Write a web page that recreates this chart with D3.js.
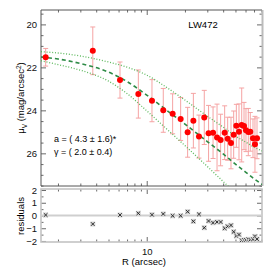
<!DOCTYPE html>
<html>
<head>
<meta charset="utf-8">
<script src="https://cdn.jsdelivr.net/npm/d3@7/dist/d3.min.js"></script>
<style>
  body { margin: 0; background: #fff; }
  svg { display: block; font-family: "Liberation Sans", Arial, sans-serif; }
  .tick text { font-size: 9.5px; fill: #111; }
</style>
</head>
<body>
<div id="chart"></div>
<script>
// profile points
const radius = [1.60, 3.76, 6.16, 8.59, 11.0, 13.5, 16.0, 18.5, 21.0, 23.3, 25.8, 28.4, 30.7, 33.3, 35.8,
  38.2, 41.1, 43.4, 46.1, 48.4, 50.8, 53.3, 56.0, 58.4, 60.5, 63.1, 65.4, 68.7, 71.2, 73.9];
const mu = [21.53, 21.23, 22.59, 23.24, 23.55, 24.0, 24.16, 24.40, 25.02, 24.48, 25.22, 24.33, 25.07, 25.04, 25.26,
  25.38, 25.04, 25.32, 25.52, 25.13, 24.72, 25.0, 24.68, 24.73, 24.92, 25.01, 25.0, 25.3, 25.58, 25.3];
const muErr = [0.41, 1.11, 0.84, 1.12, 0.98, 1.02, 0.93, 1.0, 1.16, 1.27, 1.0, 1.26, 1.3, 1.2, 1.55,
  1.2, 1.25, 1.0, 1.2, 1.1, 1.0, 1.3, 1.72, 1.1, 1.0, 1.1, 0.9, 0.9, 1.3, 0.95];
const resid = [0.04, -0.67, 0.04, 0.17, 0.06, 0.12, -0.02, -0.02, 0.30, -0.46, 0.09, -0.96, -0.43, -0.57, -0.51,
  -0.51, -1.0, -0.85, -0.77, -1.28, -1.6, -1.5, -1.95, -1.93, -1.92, -1.87, -1.9, -1.87, -1.64, -1.85];

// fitted model and its envelope
const curveR = [1.47, 2, 3, 5, 7, 10, 15, 20, 30, 40, 50, 60, 70, 81];
const fitMu = [21.52, 21.61, 21.82, 22.22, 22.66, 23.29, 24.08, 24.64, 25.45, 26.03, 26.50, 26.87, 27.18, 27.45];
const upperMu = [21.27, 21.33, 21.47, 21.75, 21.99, 22.36, 23.01, 23.52, 24.27, 24.78, 25.20, 25.47, 25.71, 25.89];
const lowerMu = [21.69, 21.87, 22.13, 22.64, 23.22, 24.02, 24.97, 25.64, 26.61, 27.31, 27.85, null, null, null];

// ticks
const xMajor = [10];
const xMinor = [2, 3, 4, 5, 6, 7, 8, 9, 20, 30, 40, 50, 60, 70, 80];
const yMajor = [20, 22, 24, 26];
const rMajor = [2, 1, 0, -1, -2];

const W = 270, H = 270;
const L = 41, R = 262, T = 10, B = 186, RT = 189, RB = 242;

const svg = d3.select('#chart').append('svg')
  .attr('width', W)
  .attr('height', H);

const x = d3.scaleLog().domain([1.47, 80.9]).range([L, R]);
const y = d3.scaleLinear().domain([19.33, 27.52]).range([T, B]);
const yr = d3.scaleLinear().domain([-2.08, 2.08]).range([RB, RT]);

const yMinor = d3.range(19.5, 27.6, 0.5).filter(v => !yMajor.includes(v));
const rMinor = d3.range(-2, 2.01, 0.5).filter(v => !rMajor.includes(v));

function styleAxis(g) {
  g.select('.domain').remove();
  g.selectAll('.tick line').attr('stroke', '#444').attr('stroke-width', 0.8);
}

// main panel ticks
function ticksY(scale, major, minor, x0, labels) {
  svg.append('g').attr('transform', `translate(${x0},0)`)
    .call(d3.axisLeft(scale).tickValues(major).tickSize(-5).tickPadding(4)
      .tickFormat(labels ? (d => d < 0 ? '\u2212' + Math.abs(d) : d) : ''))
    .call(styleAxis);
  svg.append('g').attr('transform', `translate(${x0},0)`)
    .call(d3.axisLeft(scale).tickValues(minor).tickSize(-2.5).tickFormat(''))
    .call(styleAxis);
}
function ticksYRight(scale, major, minor) {
  svg.append('g').attr('transform', `translate(${R},0)`)
    .call(d3.axisRight(scale).tickValues(major).tickSize(-5).tickFormat(''))
    .call(styleAxis);
  svg.append('g').attr('transform', `translate(${R},0)`)
    .call(d3.axisRight(scale).tickValues(minor).tickSize(-2.5).tickFormat(''))
    .call(styleAxis);
}
function ticksX(y0, top, labels) {
  const ax = top ? d3.axisTop : d3.axisBottom;
  svg.append('g').attr('transform', `translate(0,${y0})`)
    .call(ax(x).tickValues(xMajor).tickSize(-5).tickPadding(6).tickFormat(labels ? d3.format('d') : ''))
    .call(styleAxis);
  svg.append('g').attr('transform', `translate(0,${y0})`)
    .call(ax(x).tickValues(xMinor).tickSize(-2.5).tickFormat(''))
    .call(styleAxis);
}

ticksY(y, yMajor, yMinor, L, true);
ticksYRight(y, yMajor, yMinor);
ticksX(T, true, false);
ticksX(B, false, false);
ticksY(yr, rMajor, rMinor, L, true);
ticksYRight(yr, rMajor, rMinor);
ticksX(RT, true, false);
ticksX(RB, false, true);

svg.selectAll('.tick text').style('font-size', '9.5px');

// frames
svg.append('path')
  .attr('d', `M${R},${T}H${L}V${B}H${R}`)
  .attr('fill', 'none').attr('stroke', '#555').attr('stroke-width', 1);
svg.append('line')
  .attr('x1', R + 0.5).attr('x2', R + 0.5).attr('y1', T).attr('y2', B)
  .attr('stroke', '#bbb').attr('stroke-width', 2);
svg.append('rect')
  .attr('x', L).attr('y', RT).attr('width', R - L).attr('height', RB - RT)
  .attr('fill', 'none').attr('stroke', '#c4c4c4').attr('stroke-width', 1.6);

// clip
svg.append('clipPath').attr('id', 'clipMain')
  .append('rect').attr('x', L).attr('y', T).attr('width', R - L).attr('height', B - T);

const plot = svg.append('g').attr('clip-path', 'url(#clipMain)');

// error bars
const pts = radius.map((r, i) => ({ r, m: mu[i], e: muErr[i], res: resid[i] }));
const eb = plot.append('g').attr('stroke', '#f5a3a3').attr('stroke-width', 1);
eb.selectAll('.bar').data(pts).enter().append('line')
  .attr('x1', d => x(d.r)).attr('x2', d => x(d.r))
  .attr('y1', d => y(d.m - d.e)).attr('y2', d => y(d.m + d.e));
eb.selectAll('.capTop').data(pts).enter().append('line')
  .attr('x1', d => x(d.r) - 2.5).attr('x2', d => x(d.r) + 2.5)
  .attr('y1', d => y(d.m - d.e)).attr('y2', d => y(d.m - d.e));
eb.selectAll('.capBot').data(pts).enter().append('line')
  .attr('x1', d => x(d.r) - 2.5).attr('x2', d => x(d.r) + 2.5)
  .attr('y1', d => y(d.m + d.e)).attr('y2', d => y(d.m + d.e));

// model curves
const line = d3.line()
  .defined(d => d[1] !== null)
  .x(d => x(d[0])).y(d => y(d[1]))
  .curve(d3.curveMonotoneX);

plot.append('path')
  .attr('d', line(curveR.map((r, i) => [r, upperMu[i]])))
  .attr('fill', 'none').attr('stroke', '#5cb85c').attr('stroke-width', 1.3)
  .attr('stroke-dasharray', '1,1.8');
plot.append('path')
  .attr('d', line(curveR.map((r, i) => [r, lowerMu[i]])))
  .attr('fill', 'none').attr('stroke', '#5cb85c').attr('stroke-width', 1.3)
  .attr('stroke-dasharray', '1,1.8');
plot.append('path')
  .attr('d', line(curveR.map((r, i) => [r, fitMu[i]])))
  .attr('fill', 'none').attr('stroke', '#2e8b46').attr('stroke-width', 1.6)
  .attr('stroke-dasharray', '4,3');

// points
plot.selectAll('.pt').data(pts).enter().append('circle')
  .attr('cx', d => x(d.r)).attr('cy', d => y(d.m)).attr('r', 3)
  .attr('fill', '#ff0000');

// residual panel
svg.append('line')
  .attr('x1', L).attr('x2', R).attr('y1', yr(0)).attr('y2', yr(0))
  .attr('stroke', '#cfcfcf').attr('stroke-width', 2);

const rg = svg.append('g');
const marks = rg.selectAll('.res').data(pts).enter().append('g')
  .attr('transform', d => `translate(${x(d.r)},${yr(d.res)})`);
marks.append('rect')
  .attr('x', -2.5).attr('y', -2.5).attr('width', 5).attr('height', 5)
  .attr('fill', '#d6d6d6');
marks.append('path')
  .attr('d', 'M-1.8,-1.8L1.8,1.8M-1.8,1.8L1.8,-1.8')
  .attr('stroke', '#222').attr('stroke-width', 0.9);

// labels
svg.append('text')
  .attr('x', 203).attr('y', 27.5)
  .attr('text-anchor', 'middle')
  .style('font-size', '9.5px')
  .text('LW472');

const yl = svg.append('text')
  .attr('transform', 'translate(24,98) rotate(-90)')
  .attr('text-anchor', 'middle')
  .style('font-size', '9.5px');
yl.append('tspan').text('\u03bc');
yl.append('tspan').attr('dy', 2.5).style('font-size', '6.5px').text('V');
yl.append('tspan').attr('dy', -2.5).text(' (mag/arcsec');
yl.append('tspan').attr('dy', -3.5).style('font-size', '6.5px').text('2');
yl.append('tspan').attr('dy', 3.5).text(')');

svg.append('text')
  .attr('transform', 'translate(24,216) rotate(-90)')
  .attr('text-anchor', 'middle')
  .style('font-size', '9.5px')
  .text('residuals');

svg.append('text')
  .attr('x', 144).attr('y', 265)
  .attr('text-anchor', 'middle')
  .style('font-size', '9.5px')
  .text('R (arcsec)');

svg.append('text')
  .attr('x', 54).attr('y', 142)
  .style('font-size', '9px')
  .text('a = ( 4.3 \u00b1 1.6)*');
svg.append('text')
  .attr('x', 54).attr('y', 155)
  .style('font-size', '9px')
  .text('\u03b3 = ( 2.0 \u00b1 0.4)');
</script>
</body>
</html>
